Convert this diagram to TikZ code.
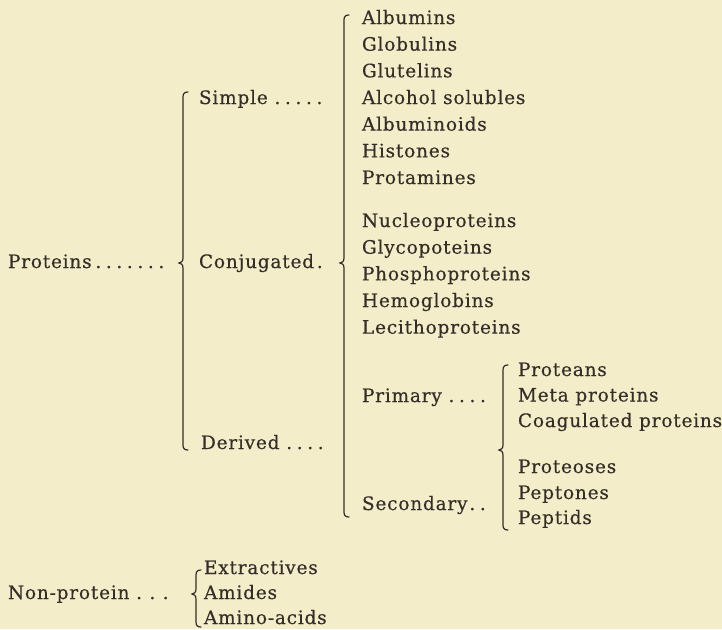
\documentclass[tikz,border=0pt]{standalone}
\usepackage{fontspec}
\setmainfont{DejaVu Serif}[LetterSpace=4.3,FakeBold=0.35]
\definecolor{paper}{HTML}{F3EEC9}
\definecolor{ink}{HTML}{352D28}
\newcommand\dd{.\hspace{0.25em}}
\newcommand\widedot{.\hspace{0.4em}}
\newcommand\mybrace[4]{% x, top, mid, bottom
  \draw[bracestyle] ({#1+5},#2) .. controls ({#1+1.5},#2) and (#1,{#2+1.5}) .. (#1,{#2+5})
    -- (#1,{#3-5}) .. controls (#1,{#3-1.5}) and ({#1-2},#3) .. ({#1-4},#3)
    .. controls ({#1-2},#3) and (#1,{#3+1.5}) .. (#1,{#3+5})
    -- (#1,{#4-5}) .. controls (#1,{#4-1.5}) and ({#1+1.5},#4) .. ({#1+5},#4);}
\begin{document}
\begin{tikzpicture}[x=1pt,y=-1pt,
  lbl/.style={anchor=base west,inner sep=0pt,outer sep=0pt,text=ink,font=\fontsize{18.5}{20}\selectfont},
  bracestyle/.style={draw=ink,line width=1.2pt,line cap=round}]
\fill[paper] (0,0) rectangle (722,629);
\useasboundingbox (0,0) rectangle (722,629);
% level 0
\node[lbl] (prot) at (8,268) {Proteins\hspace{0.2em}\dd\dd\dd\dd\dd\dd.};
\node[lbl] (nonprot) at (8,599) {Non-protein \widedot\widedot.};
% level 1
\node[lbl] (simple) at (199,104) {Simple \dd\dd\dd\dd.};
\node[lbl] (conj) at (199,268) {Conjugated\hspace{0.15em}.};
\node[lbl] (derived) at (201,449) {Derived \dd\dd\dd.};
% simple proteins
\node[lbl] (alb) at (362,24) {Albumins};
\node[lbl] (glob) at (362,50.7) {Globulins};
\node[lbl] (glut) at (362,77.3) {Glutelins};
\node[lbl] (alc) at (362,104) {Alcohol solubles};
\node[lbl] (albd) at (362,130.7) {Albuminoids};
\node[lbl] (hist) at (362,157.3) {Histones};
\node[lbl] (prota) at (362,184) {Protamines};
% conjugated
\node[lbl] (nucl) at (362,227) {Nucleoproteins};
\node[lbl] (glyc) at (362,253.7) {Glycopoteins};
\node[lbl] (phos) at (362,280.3) {Phosphoproteins};
\node[lbl] (hemo) at (362,307) {Hemoglobins};
\node[lbl] (leci) at (362,333.7) {Lecithoproteins};
% derived
\node[lbl] (prim) at (362,402) {Primary \dd\dd\dd.};
\node[lbl] (sec) at (362,510) {Secondary\hspace{0.1em}\dd.};
\node[lbl] (prtn) at (518,376) {Proteans};
\node[lbl] (meta) at (518,401.5) {Meta proteins};
\node[lbl] (coag) at (518,427) {Coagulated proteins};
\node[lbl] (prtos) at (518,473) {Proteoses};
\node[lbl] (pept) at (518,499) {Peptones};
\node[lbl] (pepd) at (518,524) {Peptids};
% non-protein
\node[lbl] (extr) at (204,574) {Extractives};
\node[lbl] (amid) at (204,599) {Amides};
\node[lbl] (amin) at (204,624) {Amino-acids};
% braces
\mybrace{183}{92}{263}{450}
\mybrace{344}{15}{263}{517}
\mybrace{503}{365}{450}{530}
\mybrace{196}{570}{594}{627}
\end{tikzpicture}
\end{document}
